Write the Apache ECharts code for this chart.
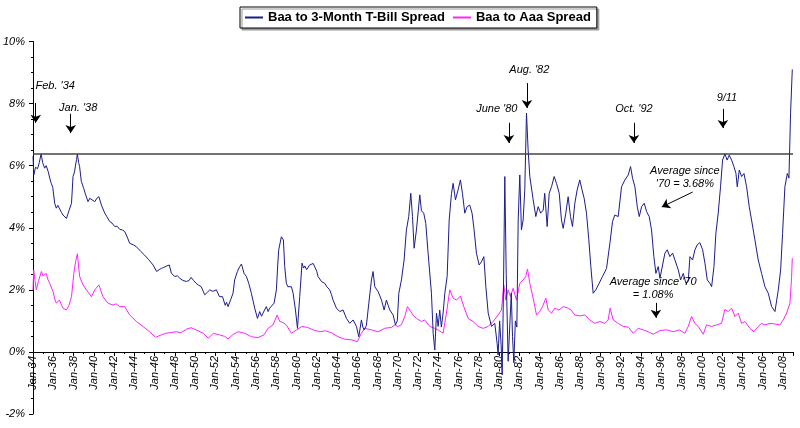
<!DOCTYPE html>
<html>
<head>
<meta charset="utf-8">
<script src="https://cdn.jsdelivr.net/npm/echarts@6/dist/echarts.min.js"></script>
<style>
  html, body { margin: 0; padding: 0; background: #fff; }
  #chart { width: 800px; height: 428px; }
</style>
</head>
<body>
<div id="chart"></div>
<script>
// [year, percent]
const tbillSpread = [
  [1934.0,6.3],[1934.08,5.7],[1934.25,5.95],[1934.45,5.9],[1934.62,6.1],[1934.8,6.38],[1934.95,6.1],[1935.15,5.92],
  [1935.3,6.0],[1935.5,5.81],[1935.65,5.6],[1935.8,5.43],[1935.95,5.3],[1936.14,4.79],[1936.3,4.63],[1936.45,4.72],
  [1936.6,4.68],[1936.8,4.5],[1936.96,4.41],[1937.15,4.35],[1937.3,4.3],[1937.45,4.45],[1937.6,4.6],[1937.8,4.79],
  [1937.95,5.65],[1938.1,5.8],[1938.2,6.02],[1938.3,6.2],[1938.38,6.38],[1938.5,6.1],[1938.6,5.97],[1938.77,5.49],
  [1939.0,5.27],[1939.2,5.06],[1939.43,4.84],[1939.6,4.95],[1939.76,4.9],[1940.1,4.84],[1940.3,4.95],[1940.5,5.0],
  [1940.75,4.73],[1941.08,4.47],[1941.3,4.35],[1941.57,4.2],[1941.8,4.15],[1942.07,4.04],[1942.3,4.05],[1942.56,3.95],
  [1942.8,3.93],[1943.05,3.88],[1943.3,3.7],[1943.54,3.5],[1943.9,3.45],[1944.2,3.39],[1944.6,3.25],[1945.0,3.12],
  [1945.4,2.98],[1945.85,2.8],[1946.2,2.59],[1946.45,2.65],[1946.67,2.69],[1946.9,2.72],[1947.2,2.77],[1947.45,2.8],
  [1947.66,2.53],[1948.0,2.43],[1948.25,2.45],[1948.5,2.37],[1948.8,2.3],[1949.14,2.27],[1949.4,2.3],[1949.6,2.4],
  [1949.85,2.3],[1950.1,2.21],[1950.35,2.15],[1950.6,2.1],[1950.95,1.84],[1951.2,1.92],[1951.45,2.0],[1951.75,1.95],
  [1952.1,2.0],[1952.4,1.78],[1952.7,1.78],[1952.97,1.5],[1953.1,1.6],[1953.25,1.46],[1953.4,1.5],[1953.74,1.89],
  [1953.9,2.32],[1954.17,2.59],[1954.4,2.75],[1954.57,2.83],[1954.83,2.53],[1955.06,2.43],[1955.29,2.21],[1955.55,1.89],
  [1955.88,1.41],[1956.15,1.08],[1956.37,1.3],[1956.55,1.15],[1956.7,1.25],[1956.85,1.35],[1957.03,1.46],[1957.2,1.3],
  [1957.36,1.41],[1957.55,1.45],[1957.79,1.57],[1958.02,2.0],[1958.15,2.8],[1958.25,3.29],[1958.51,3.71],[1958.71,3.61],
  [1958.84,2.75],[1959.0,2.21],[1959.15,2.1],[1959.34,2.05],[1959.5,2.1],[1959.67,1.89],[1959.9,1.35],[1960.1,0.76],
  [1960.32,1.78],[1960.55,2.86],[1960.7,2.7],[1960.82,2.77],[1961.0,2.65],[1961.15,2.69],[1961.3,2.8],[1961.47,2.77],
  [1961.65,2.85],[1961.8,2.83],[1962.0,2.6],[1962.13,2.43],[1962.3,2.35],[1962.46,2.27],[1962.79,2.21],[1963.0,2.1],
  [1963.28,2.0],[1963.45,1.85],[1963.61,1.67],[1963.94,1.41],[1964.27,1.3],[1964.6,1.35],[1964.93,1.08],[1965.26,0.92],
  [1965.59,1.03],[1965.92,0.82],[1966.15,0.49],[1966.41,1.03],[1966.55,0.8],[1966.68,0.71],[1966.9,0.85],[1967.14,1.57],
  [1967.4,2.32],[1967.56,2.59],[1967.73,2.1],[1968.06,1.94],[1968.39,1.67],[1968.65,1.35],[1968.88,1.67],[1969.05,1.5],
  [1969.21,1.35],[1969.54,1.19],[1969.77,0.87],[1969.95,1.0],[1970.1,1.89],[1970.36,2.32],[1970.62,2.96],[1970.85,3.93],
  [1971.08,4.36],[1971.28,5.11],[1971.45,4.36],[1971.61,3.34],[1971.84,3.93],[1972.17,5.06],[1972.33,4.55],[1972.56,4.47],
  [1972.76,4.14],[1972.99,3.18],[1973.32,1.89],[1973.49,0.6],[1973.65,0.06],[1973.82,1.25],[1973.98,0.82],[1974.14,1.35],
  [1974.3,0.8],[1974.47,1.25],[1974.64,1.89],[1974.87,2.43],[1975.07,4.25],[1975.3,5.11],[1975.46,5.43],[1975.69,4.9],
  [1975.95,5.22],[1976.18,5.54],[1976.38,5.11],[1976.61,4.47],[1976.84,4.68],[1977.1,4.73],[1977.33,4.47],[1977.53,3.93],
  [1977.76,3.18],[1978.03,2.8],[1978.25,2.9],[1978.49,3.07],[1978.69,2.1],[1978.92,1.25],[1979.25,0.82],[1979.57,0.92],
  [1979.8,0.28],[1979.9,-0.1],[1980.05,1.0],[1980.2,0.2],[1980.3,-0.74],[1980.42,1.8],[1980.56,5.65],[1980.7,2.5],
  [1980.89,-0.3],[1981.06,-0.35],[1981.2,1.9],[1981.32,0.5],[1981.45,-0.35],[1981.6,1.0],[1981.75,0.8],[1981.88,4.25],
  [1982.04,5.7],[1982.2,3.93],[1982.37,4.25],[1982.53,5.22],[1982.7,7.69],[1982.86,6.51],[1983.03,5.65],[1983.36,4.9],
  [1983.62,4.36],[1983.85,4.68],[1984.1,4.47],[1984.35,4.57],[1984.5,5.11],[1984.74,4.04],[1984.94,5.11],[1985.17,5.32],
  [1985.43,5.65],[1985.66,5.43],[1985.93,5.11],[1986.15,4.25],[1986.32,3.98],[1986.58,4.47],[1986.81,5.0],[1987.04,4.36],
  [1987.24,4.04],[1987.47,4.79],[1987.7,5.22],[1987.96,5.54],[1988.18,5.22],[1988.39,4.95],[1988.62,4.47],[1988.85,3.61],
  [1989.05,2.75],[1989.28,1.89],[1989.54,2.0],[1989.87,2.21],[1990.2,2.43],[1990.6,2.69],[1990.93,3.5],[1991.19,4.2],
  [1991.42,4.41],[1991.75,4.36],[1992.08,5.32],[1992.41,5.54],[1992.74,5.7],[1992.97,5.97],[1993.17,5.59],[1993.4,5.32],
  [1993.63,4.68],[1993.83,4.36],[1994.06,4.68],[1994.32,4.79],[1994.55,4.52],[1994.81,4.36],[1995.04,3.93],[1995.27,3.07],
  [1995.47,2.53],[1995.7,2.75],[1995.87,2.37],[1996.13,2.8],[1996.36,3.18],[1996.59,3.29],[1996.85,3.07],[1997.12,3.18],
  [1997.35,2.96],[1997.5,3.0],[1997.68,2.64],[1997.91,2.32],[1998.17,2.53],[1998.43,2.21],[1998.66,2.27],[1998.83,3.07],
  [1999.09,2.96],[1999.32,3.29],[1999.55,3.45],[1999.81,3.52],[2000.08,3.29],[2000.31,2.86],[2000.54,2.32],[2000.8,2.21],
  [2000.97,2.1],[2001.2,2.75],[2001.39,3.82],[2001.62,4.47],[2001.85,5.32],[2002.05,6.18],[2002.28,6.38],[2002.5,6.18],
  [2002.71,6.34],[2002.94,6.18],[2003.17,5.97],[2003.37,5.75],[2003.5,5.32],[2003.7,5.86],[2003.93,5.65],[2004.16,5.75],
  [2004.42,5.32],[2004.68,4.68],[2004.91,4.25],[2005.24,3.61],[2005.57,2.96],[2005.9,2.53],[2006.23,2.1],[2006.56,1.89],
  [2006.89,1.46],[2007.22,1.3],[2007.55,2.0],[2007.78,2.64],[2007.97,3.82],[2008.2,5.32],[2008.44,5.75],[2008.6,5.6],
  [2008.76,7.69],[2008.93,9.1]
];

const aaaSpread = [
  [1934.0,2.0],[1934.07,2.64],[1934.2,2.3],[1934.33,2.0],[1934.55,2.3],[1934.83,2.59],[1935.0,2.45],[1935.15,2.43],
  [1935.3,2.53],[1935.45,2.35],[1935.65,2.21],[1935.98,1.94],[1936.15,1.7],[1936.3,1.57],[1936.6,1.67],[1936.96,1.41],
  [1937.3,1.35],[1937.55,1.5],[1937.8,1.78],[1938.03,2.53],[1938.2,2.9],[1938.38,3.16],[1938.6,2.43],[1938.94,2.16],
  [1939.27,2.0],[1939.5,1.9],[1939.76,1.78],[1940.1,2.0],[1940.5,2.16],[1940.9,1.78],[1941.4,1.57],[1941.9,1.51],
  [1942.2,1.55],[1942.56,1.46],[1943.05,1.46],[1943.54,1.19],[1944.2,0.98],[1944.86,0.82],[1945.5,0.65],[1946.1,0.47],
  [1946.67,0.55],[1947.1,0.6],[1947.5,0.62],[1948.15,0.65],[1948.6,0.62],[1949.14,0.73],[1949.6,0.78],[1950.1,0.71],
  [1950.8,0.6],[1951.3,0.44],[1951.8,0.6],[1952.4,0.55],[1952.92,0.5],[1953.25,0.42],[1953.7,0.55],[1954.24,0.65],
  [1954.9,0.6],[1955.55,0.49],[1956.2,0.46],[1956.8,0.55],[1957.2,0.76],[1957.69,0.87],[1958.09,1.19],[1958.35,0.98],
  [1958.65,0.95],[1959.0,0.87],[1959.5,0.6],[1960.0,0.71],[1960.55,0.82],[1961.1,0.79],[1961.64,0.71],[1962.3,0.65],
  [1962.85,0.68],[1963.45,0.62],[1964.1,0.49],[1964.77,0.41],[1965.42,0.39],[1966.0,0.33],[1966.41,0.6],[1966.74,0.76],
  [1967.4,0.71],[1968.06,0.65],[1968.71,0.76],[1969.37,0.79],[1969.7,0.87],[1970.0,0.82],[1970.35,0.87],[1970.69,1.14],
  [1970.95,1.46],[1971.18,1.35],[1971.5,1.19],[1971.84,1.08],[1972.33,0.98],[1972.66,1.03],[1973.16,0.82],[1973.65,0.76],
  [1974.0,0.7],[1974.47,0.6],[1974.8,1.25],[1975.13,2.0],[1975.46,1.73],[1975.79,1.67],[1976.18,1.8],[1976.51,1.46],
  [1976.94,1.08],[1977.43,0.98],[1977.93,0.82],[1978.42,0.76],[1978.92,0.82],[1979.41,0.98],[1979.9,1.19],[1980.23,1.35],
  [1980.46,2.16],[1980.66,1.67],[1980.89,2.0],[1981.12,1.78],[1981.38,2.05],[1981.71,1.67],[1982.04,2.21],[1982.37,2.32],
  [1982.63,2.43],[1982.8,2.67],[1983.03,2.21],[1983.36,1.73],[1983.69,1.19],[1984.0,1.3],[1984.28,1.46],[1984.61,1.73],
  [1984.84,1.35],[1985.17,1.25],[1985.5,1.41],[1985.9,1.35],[1986.32,1.46],[1986.81,1.41],[1987.1,1.35],[1987.47,1.19],
  [1987.96,1.16],[1988.46,1.19],[1988.95,1.03],[1989.44,0.92],[1989.94,0.98],[1990.43,0.92],[1990.76,1.03],[1990.95,1.41],
  [1991.26,1.03],[1991.75,0.92],[1992.25,0.82],[1992.75,0.8],[1993.23,0.6],[1993.73,0.76],[1994.22,0.71],[1994.71,0.65],
  [1995.21,0.57],[1995.87,0.69],[1996.52,0.71],[1997.18,0.65],[1997.8,0.71],[1998.33,0.6],[1998.66,0.82],[1998.99,1.14],
  [1999.32,0.92],[1999.65,0.82],[2000.14,0.57],[2000.47,0.87],[2000.97,0.82],[2001.46,0.87],[2001.95,0.92],[2002.28,1.37],
  [2002.61,1.3],[2002.94,1.41],[2003.27,1.14],[2003.6,1.25],[2003.93,0.92],[2004.26,0.98],[2004.75,0.76],[2005.14,0.65],
  [2005.57,0.82],[2005.9,0.92],[2006.23,0.87],[2006.72,0.92],[2007.2,0.9],[2007.71,0.87],[2008.04,1.03],[2008.37,1.25],
  [2008.7,1.57],[2008.86,2.4],[2008.93,3.02]
];

const seriesNames = ["Baa to 3-Month T-Bill Spread", "Baa to Aaa Spread"];
const peakLevel = 6.4;

// annotation text: [label, year, percent]
const notes = [
  ["Feb. '34", 1936.19, 8.57],
  ["Jan. '38", 1938.46, 7.86],
  ["June '80", 1979.77, 7.83],
  ["Aug. '82", 1982.98, 9.08],
  ["Oct. '92", 1993.3, 7.83],
  ["9/11", 2002.48, 8.18],
  ["Average since\n'70 = 3.68%", 1998.33, 5.62],
  ["Average since '70\n= 1.08%", 1995.2, 2.05]
];
// arrows: [fromYear, fromPct, toYear, toPct]
const arrows = [
  [1934.27, 8.02, 1934.27, 7.38],
  [1937.72, 7.67, 1937.72, 7.05],
  [1980.96, 7.38, 1980.96, 6.73],
  [1982.74, 8.66, 1982.74, 7.86],
  [1993.3, 7.38, 1993.3, 6.73],
  [2002.08, 7.83, 2002.08, 7.21],
  [1999.1, 5.15, 1996.05, 4.67],
  [1995.47, 1.58, 1995.47, 1.1]
];

const font = "Liberation Sans, Arial, sans-serif";
const chart = echarts.init(document.getElementById("chart"));

chart.setOption({
  animation: false,
  backgroundColor: "#fff",
  legend: {
    data: seriesNames,
    left: 240,
    top: 7,
    padding: [4, 6, 4, 5],
    itemGap: 8,
    itemWidth: 18,
    itemHeight: 2,
    icon: "rect",
    borderColor: "#000",
    borderWidth: 1,
    borderRadius: 0,
    backgroundColor: "#fff",
    shadowColor: "#999",
    shadowOffsetX: 2,
    shadowOffsetY: 2,
    shadowBlur: 0,
    textStyle: { fontFamily: font, fontWeight: "bold", fontSize: 13, color: "#000" }
  },
  grid: { left: 33, right: 7, top: 41.5, bottom: 14, containLabel: false, outerBoundsMode: "none" },
  xAxis: {
    type: "value",
    min: 1934,
    max: 2009,
    interval: 2,
    offset: -62,
    splitLine: { show: false },
    axisLine: { onZero: false, lineStyle: { color: "#000", width: 1 } },
    axisTick: { show: true, length: 4, lineStyle: { color: "#000" } },
    minorTick: { show: true, splitNumber: 2, length: 2, lineStyle: { color: "#000" } },
    axisLabel: {
      rotate: 90,
      margin: 4,
      fontFamily: font,
      fontStyle: "italic",
      fontSize: 11,
      color: "#000",
      showMaxLabel: false,
      formatter: v => (v % 2 === 0 ? "Jan-" + String(v).slice(2) : "")
    }
  },
  yAxis: {
    type: "value",
    min: -2,
    max: 10,
    interval: 2,
    splitLine: { show: false },
    axisLine: { show: true, lineStyle: { color: "#000", width: 1 } },
    axisTick: { show: true, length: 4, lineStyle: { color: "#000" } },
    minorTick: { show: true, splitNumber: 4, length: 2, lineStyle: { color: "#000" } },
    axisLabel: {
      margin: 8,
      fontFamily: font,
      fontStyle: "italic",
      fontSize: 11,
      color: "#000",
      formatter: "{value}%"
    }
  },
  series: [
    {
      name: seriesNames[0],
      type: "line",
      data: tbillSpread,
      showSymbol: false,
      symbol: "none",
      lineStyle: { color: "#1c1c8c", width: 1 },
      itemStyle: { color: "#1c1c8c" },
      z: 3,
      markLine: {
        silent: true,
        symbol: "none",
        label: { show: false },
        lineStyle: { color: "#444", width: 1.5, type: "solid" },
        data: [{ yAxis: peakLevel }]
      }
    },
    {
      name: seriesNames[1],
      type: "line",
      data: aaaSpread,
      showSymbol: false,
      symbol: "none",
      lineStyle: { color: "#ff22ff", width: 1 },
      itemStyle: { color: "#ff22ff" },
      z: 2
    },
    {
      name: "notes",
      type: "line",
      data: [],
      silent: true,
      markPoint: {
        symbol: "circle",
        symbolSize: 0,
        label: {
          show: true,
          position: "inside",
          formatter: p => p.name,
          fontFamily: font,
          fontStyle: "italic",
          fontSize: 11,
          lineHeight: 13,
          color: "#000",
          align: "center"
        },
        data: notes.map(n => ({ name: n[0], coord: [n[1], n[2]] }))
      },
      markLine: {
        silent: true,
        symbol: ["none", "arrow"],
        symbolSize: 8,
        label: { show: false },
        lineStyle: { color: "#000", width: 1, type: "solid" },
        data: arrows.map(a => [{ coord: [a[0], a[1]] }, { coord: [a[2], a[3]] }])
      }
    }
  ]
});
</script>
</body>
</html>
